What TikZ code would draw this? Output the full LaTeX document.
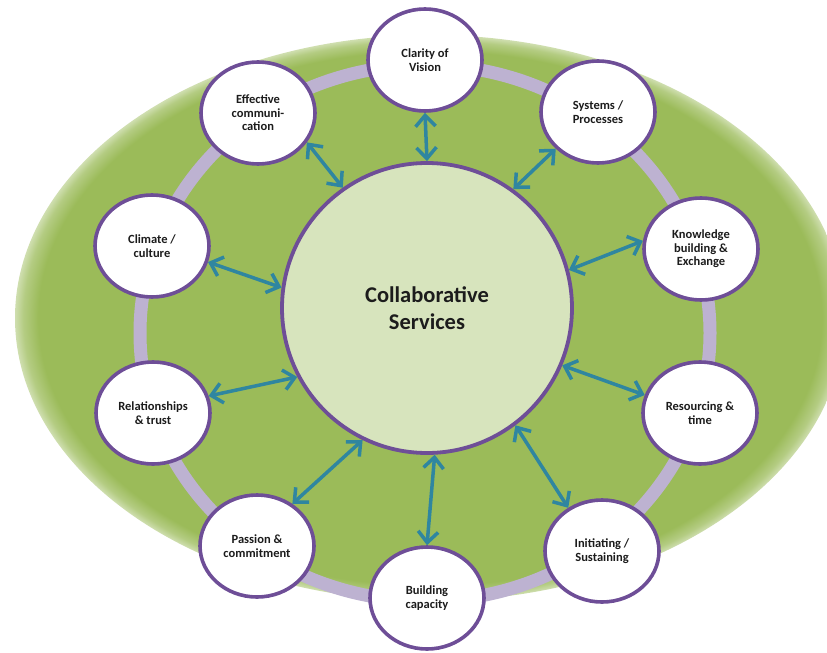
\documentclass[tikz,border=0pt]{standalone}
\usepackage{fontspec}
\setmainfont{Carlito}
\usetikzlibrary{shapes.geometric,arrows.meta}

\definecolor{leaf}{HTML}{9BBB59}
\definecolor{leafpale}{HTML}{D7E4BD}
\definecolor{lavender}{HTML}{BDB2D1}
\definecolor{plum}{HTML}{6E4E97}
\definecolor{teal}{HTML}{2F86A0}
\definecolor{ink}{HTML}{1C1C1C}
\colorlet{leafsoft}{leaf!75!white}
\colorlet{leafedge}{leaf!48!white}

% soft-edged green backdrop
\pgfdeclareradialshading{backdrop}{\pgfpoint{0bp}{0bp}}{%
  color(0bp)=(leaf); color(23.6bp)=(leaf); color(24.5bp)=(leafsoft);
  color(25bp)=(leafedge); color(50bp)=(leafedge)}

\tikzset{
  factor/.style={ellipse, draw=plum, line width=3.6pt, fill=white,
    minimum width=114pt, minimum height=102pt, inner sep=0pt,
    align=center, text=ink, font=\fontsize{12.5}{13.4}\selectfont\bfseries},
  hubnode/.style={circle, draw=plum, line width=3.8pt, fill=leafpale,
    minimum size=290pt, inner sep=0pt, align=center, text=ink,
    font=\fontsize{22.5}{27}\selectfont\bfseries},
  link/.style={draw=teal, line width=3.5pt,
    {Straight Barb[length=11pt,width=20pt]}-{Straight Barb[length=11pt,width=20pt]}}
}

\begin{document}
\begin{tikzpicture}[x=1pt,y=-1pt]
\useasboundingbox (0,0) rectangle (827,653);

% backdrop and ring
\shade[shading=backdrop] (430,318) ellipse [x radius=415, y radius=283];
\draw[lavender, line width=13pt] (425,333) ellipse [x radius=285, y radius=268];

% central node
\node[hubnode] (hub) at (427,308) {Collaborative\\Services};

% surrounding factors
\node[factor] (clarity)       at (425,60)  {Clarity of\\Vision};
\node[factor] (systems)       at (598,112) {Systems /\\Processes};
\node[factor] (knowledge)     at (701,249) {Knowledge\\building \&\\Exchange};
\node[factor] (resourcing)    at (700,413) {Resourcing \&\\time};
\node[factor] (initiating)    at (602,551) {Initiating /\\Sustaining};
\node[factor] (building)      at (427,598) {Building\\capacity};
\node[factor] (passion)       at (257,546) {Passion \&\\commitment};
\node[factor] (relationships) at (153,413) {Relationships\\\& trust};
\node[factor] (climate)       at (152,246) {Climate /\\culture};
\node[factor] (effective)     at (258,113) {Effective\\communi-\\cation};

% two-way links
\draw[link] (clarity.-90)      -- (hub.90);
\draw[link] (systems.221)      -- (hub.54);
\draw[link] (knowledge.172)    -- (hub.15);
\draw[link] (resourcing.162)   -- (hub.-23);
\draw[link] (initiating.128)   -- (hub.-53);
\draw[link] (building.90)      -- (hub.-87);
\draw[link] (passion.50)       -- (hub.244);
\draw[link] (relationships.17) -- (hub.208);
\draw[link] (climate.-16)      -- (hub.172);
\draw[link] (effective.-31)    -- (hub.125);
\end{tikzpicture}
\end{document}
